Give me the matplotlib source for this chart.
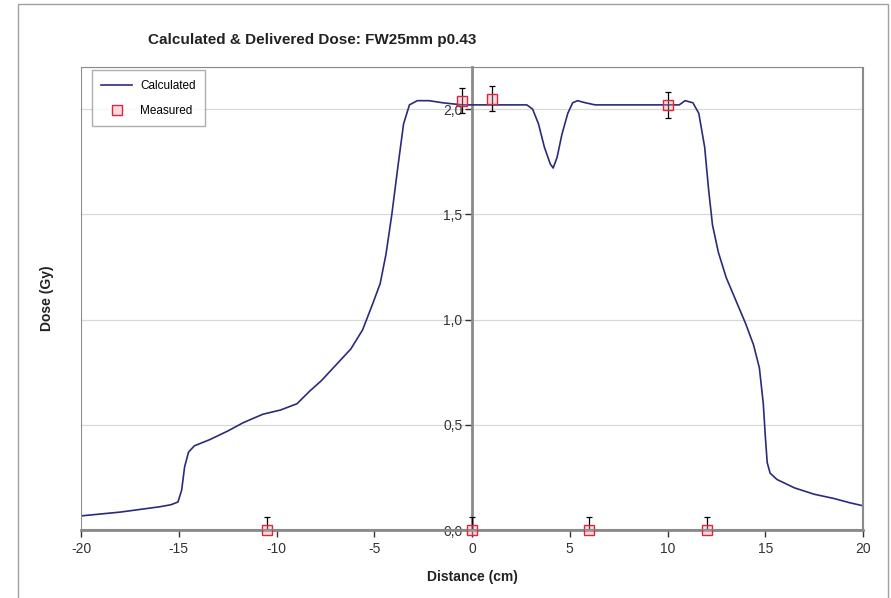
import matplotlib.pyplot as plt
import matplotlib.ticker as mticker
from matplotlib.patches import Rectangle

plt.rcParams["font.family"] = ["Liberation Sans", "DejaVu Sans"]
plt.rcParams["axes.unicode_minus"] = False

# calculated dose profile (distance in cm, dose in Gy)
calc_x = [-20.0, -18.0, -16.0, -15.4, -15.04, -14.85, -14.7, -14.5, -14.2, -13.4,
          -12.5, -11.7, -10.7, -9.8, -8.95, -8.3, -7.7, -7.0, -6.2, -5.6,
          -5.1, -4.7, -4.4, -4.1, -3.8, -3.5, -3.2, -2.8, -2.2, -1.5,
          -0.5, 0.5, 2.0, 2.8, 3.1, 3.4, 3.7, 4.0, 4.15, 4.35,
          4.6, 4.9, 5.15, 5.4, 5.8, 6.3, 8.0, 10.0, 10.6, 10.9,
          11.3, 11.6, 11.9, 12.1, 12.3, 12.6, 13.0, 13.5, 14.0, 14.4,
          14.7, 14.9, 15.0, 15.1, 15.25, 15.6, 16.5, 17.5, 18.5, 19.3, 20.0]
calc_y = [0.067, 0.085, 0.11, 0.12, 0.133, 0.19, 0.30, 0.37, 0.40, 0.43,
          0.47, 0.51, 0.55, 0.57, 0.60, 0.66, 0.71, 0.78, 0.86, 0.95,
          1.07, 1.17, 1.31, 1.50, 1.72, 1.93, 2.02, 2.04, 2.04, 2.03,
          2.02, 2.02, 2.02, 2.02, 2.00, 1.93, 1.82, 1.74, 1.72, 1.77,
          1.88, 1.98, 2.03, 2.04, 2.03, 2.02, 2.02, 2.02, 2.02, 2.04,
          2.03, 1.98, 1.82, 1.62, 1.45, 1.32, 1.20, 1.09, 0.98, 0.88,
          0.77, 0.60, 0.45, 0.32, 0.27, 0.24, 0.20, 0.17, 0.15, 0.13, 0.115]

# measured points with uncertainty
meas_x = [-10.5, -0.5, 0.0, 1.0, 6.0, 10.0, 12.0]
meas_y = [0.0, 2.04, 0.0, 2.05, 0.0, 2.02, 0.0]
meas_err = [0.06, 0.06, 0.06, 0.06, 0.06, 0.06, 0.06]

x_ticks = [-20, -15, -10, -5, 0, 5, 10, 15, 20]
y_ticks = [0.0, 0.5, 1.0, 1.5, 2.0]

fig = plt.figure(figsize=(8.91, 5.98), dpi=100)
ax = fig.add_axes([81 / 891, 1 - 530 / 598, 782 / 891, 463 / 598])

# chart-area border
fig.patches.append(Rectangle((18 / 891, -0.1), 870 / 891, 1.1 - 4 / 598,
                             transform=fig.transFigure, fill=False,
                             edgecolor="#a0a0a0", linewidth=1.0))

ax.plot(calc_x, calc_y, color="#2b2b7a", linewidth=1.2, label="Calculated", zorder=3)

ax.errorbar(meas_x, meas_y, yerr=meas_err, fmt="none", ecolor="black",
            elinewidth=0.9, capsize=2.5, capthick=0.9, zorder=4)
ax.plot(meas_x, meas_y, linestyle="none", marker="s", markersize=6.5,
        markerfacecolor=(1.0, 0.6, 0.65, 0.35), markeredgecolor="#d8283c",
        markeredgewidth=1.0, label="Measured", clip_on=False, zorder=5)

ax.set_xlim(-20, 20)
ax.set_ylim(0, 2.2)

# value axis crosses at distance 0
for side in ["top", "right", "left"]:
    ax.spines[side].set_color("#8a8a8a")
ax.spines["left"].set_position(("data", 0))
ax.spines["left"].set_linewidth(2.0)
ax.spines["bottom"].set_color("#8a8a8a")
ax.spines["bottom"].set_linewidth(2.0)
ax.add_patch(Rectangle((0, 0), 1, 1, transform=ax.transAxes, fill=False,
                       edgecolor="#8a8a8a", linewidth=1.5, zorder=6))

ax.set_xticks(x_ticks)
ax.set_yticks(y_ticks)
ax.yaxis.set_major_formatter(mticker.FuncFormatter(lambda v, p: f"{v:.1f}".replace(".", ",")))
ax.tick_params(axis="both", labelsize=10, colors="#333333", length=5, width=1.0)
ax.tick_params(axis="y", pad=2)
ax.yaxis.grid(True, color="#d8d8d8", linewidth=0.9)
ax.set_axisbelow(True)

ax.set_xlabel("Distance (cm)", fontsize=10, fontweight="bold", color="#222222")
ax.xaxis.set_label_coords(0.5, -0.086)
ax.set_ylabel("Dose (Gy)", fontsize=10, fontweight="bold", color="#222222")
ax.yaxis.set_label_coords(-0.034, 0.5)

fig.text(312 / 891, 1 - 40 / 598, "Calculated & Delivered Dose: FW25mm p0.43",
         ha="center", va="center", fontsize=11, fontweight="bold", color="#222222")

leg = ax.legend(loc="upper left", bbox_to_anchor=(0.014, 0.993), fontsize=8.5,
                frameon=True, fancybox=False, borderpad=0.8, handlelength=2.6,
                handletextpad=0.7, labelspacing=1.1, borderaxespad=0)
leg.get_frame().set_edgecolor("#9a9a9a")
leg.get_frame().set_linewidth(1.0)

fig.savefig("out.png", dpi=100)
